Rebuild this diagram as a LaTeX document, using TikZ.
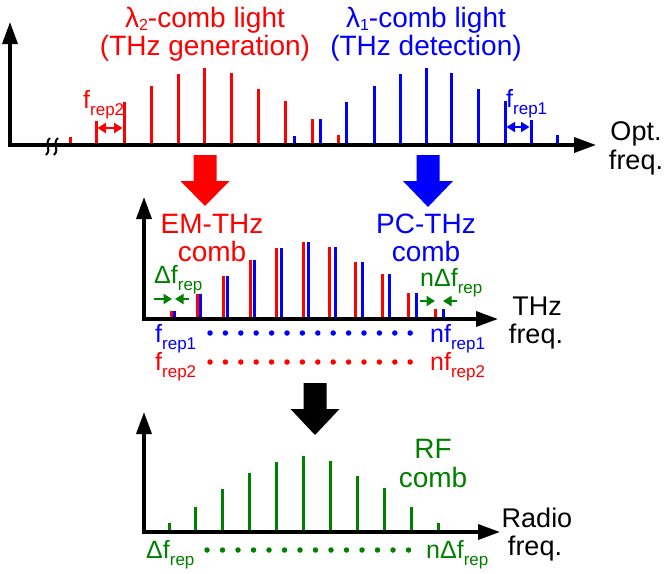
\documentclass[tikz,border=0pt]{standalone}
\usepackage{fontspec}
\setmainfont{Liberation Sans}
\usetikzlibrary{arrows.meta}
\definecolor{cred}{RGB}{255,0,0}
\definecolor{cblue}{RGB}{0,0,255}
\definecolor{cgreen}{RGB}{0,128,0}
\newcommand{\mysub}[1]{\raisebox{-7.5pt}{\fontsize{17}{17}\selectfont #1}}
\newcommand{\lamsub}[1]{\raisebox{-3pt}{\fontsize{16}{16}\selectfont #1}}
\tikzset{
  bigtip/.tip={Triangle[length=22pt,width=15pt]},
  stip/.tip={Triangle[length=8.5pt,width=10pt]},
}
\begin{document}
\begin{tikzpicture}[x=1pt,y=-1pt,
  axisline/.style={line width=3.5pt, line join=miter},
  bar/.style={line width=3pt},
  title/.style={font=\fontsize{28}{28}\selectfont, inner sep=0pt, anchor=base},
  axlab/.style={font=\fontsize{27}{27}\selectfont, inner sep=0pt, anchor=base},
  small/.style={font=\fontsize{25}{25}\selectfont, inner sep=0pt, anchor=base west},
  dotc/.style={circle, fill, inner sep=0pt, minimum size=5.5pt},
  smallarr/.style={line width=2pt},
]
\useasboundingbox (0,0) rectangle (666,573);

% ---------- top panel ----------
\foreach \x/\t in {70/137, 96/121, 124/102, 151/86, 178/74, 204/68, 231/73, 258/89, 285/101, 312/119, 338/135}
  \draw[bar, cred] (\x,145) -- (\x,\t);
\foreach \x/\t in {294/136, 320/119, 346/102, 374/86, 400/74, 426/68, 451/73, 478/89, 505/101, 531/120, 557/135}
  \draw[bar, cblue] (\x,145) -- (\x,\t);
\draw[axisline, bigtip-bigtip] (10,22) -- (10,145) -- (596,145);
\draw[line width=2pt] (50,138) .. controls (44,143) and (52,149) .. (46,155);
\draw[line width=2pt] (58,138) .. controls (52,143) and (60,149) .. (54,155);

\draw[smallarr, cred, stip-stip] (97.5,128) -- (122.5,128);
\draw[smallarr, cblue, stip-stip] (506.5,127) -- (529.5,127);
\node[small, cred] (fr2top) at (83,108) {f\mysub{rep2}};
\node[small, cblue] (fr1top) at (506,107) {f\mysub{rep1}};

\node[title, cred] (t2a) at (205,27) {λ\lamsub{2}-comb light};
\node[title, cred] (t2b) at (205,55) {(THz generation)};
\node[title, cblue] (t1a) at (426,27) {λ\lamsub{1}-comb light};
\node[title, cblue] (t1b) at (426,55) {(THz detection)};
\node[axlab] (opt) at (636,140) {Opt.};
\node[axlab] (optf) at (636,169) {freq.};

% big arrows
\fill[cred] (193.5,155) -- (216.5,155) -- (216.5,181) -- (229.5,181) -- (205,206) -- (180.5,181) -- (193.5,181) -- cycle;
\fill[cblue] (416.5,155) -- (439.5,155) -- (439.5,181) -- (453,181) -- (428,207) -- (403,181) -- (416.5,181) -- cycle;

% ---------- middle panel ----------
\foreach \k/\t in {0/311, 1/294, 2/276, 3/260, 4/248, 5/242, 6/247, 7/262, 8/274, 9/293, 10/309}{
  \pgfmathsetmacro{\xr}{171+26.4*\k}
  \pgfmathsetmacro{\xb}{174+26.9*\k}
  \draw[bar, cred] (\xr,319) -- (\xr,\t);
  \draw[bar, cblue] (\xb,319) -- (\xb,\t);
}
\draw[axisline, bigtip-bigtip] (144,197) -- (144,319) -- (498,319);
\node[title, cred] (em1) at (212,233) {EM-THz};
\node[title, cred] (em2) at (212,261) {comb};
\node[title, cblue] (pc1) at (426,233) {PC-THz};
\node[title, cblue] (pc2) at (426,261) {comb};
\node[axlab] (thz) at (537,315) {THz};
\node[axlab] (thzf) at (536,343) {freq.};

\draw[smallarr, cgreen, -stip] (154,299) -- (172,299);
\draw[smallarr, cgreen, -stip] (189,299) -- (175,299);
\draw[smallarr, cgreen, -stip] (420,301) -- (435,301);
\draw[smallarr, cgreen, -stip] (457,301) -- (443,301);
\node[small, cgreen] (dfl) at (154,283) {Δf\mysub{rep}};
\node[small, cgreen] (ndfl) at (420,286) {nΔf\mysub{rep}};

\node[small, cblue] (f1) at (155,342) {f\mysub{rep1}};
\node[small, cblue] (nf1) at (430,342) {nf\mysub{rep1}};
\node[small, cred] (f2) at (155,370) {f\mysub{rep2}};
\node[small, cred] (nf2) at (430,370) {nf\mysub{rep2}};
\foreach \k in {0,...,13}{
  \node[dotc, cblue] (bd\k) at ({210+15.4*\k},333) {};
  \node[dotc, cred] (rd\k) at ({210+15.4*\k},362) {};
}

% black arrow
\fill[black] (303.5,383) -- (326.5,383) -- (326.5,409) -- (339.5,409) -- (315,435) -- (290.5,409) -- (303.5,409) -- cycle;

% ---------- bottom panel ----------
\foreach \k/\t in {0/523, 1/507, 2/489, 3/473, 4/462, 5/456, 6/461, 7/476, 8/488, 9/507, 10/523}{
  \pgfmathsetmacro{\xg}{169+26.9*\k}
  \draw[bar, cgreen] (\xg,532) -- (\xg,\t);
}
\draw[axisline, bigtip-bigtip] (144,412) -- (144,532) -- (500,532);
\node[title, cgreen] (rf1) at (433,458) {RF};
\node[title, cgreen] (rf2) at (433,487) {comb};
\node[axlab] (radio) at (537,527) {Radio};
\node[axlab] (radiof) at (535,555) {freq.};
\node[small, cgreen] (dfb) at (146,558) {Δf\mysub{rep}};
\node[small, cgreen] (ndfb) at (426,558) {nΔf\mysub{rep}};
\foreach \k in {0,...,13}{
  \node[dotc, cgreen] (gd\k) at ({207+15.5*\k},550) {};
}
\end{tikzpicture}
\end{document}
